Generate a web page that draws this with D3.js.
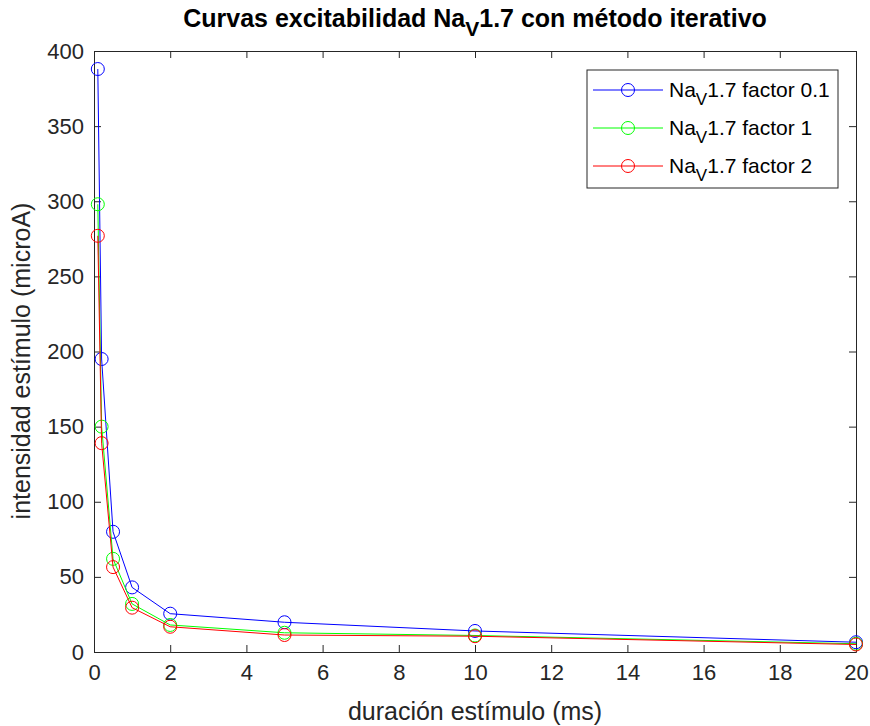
<!DOCTYPE html>
<html><head><meta charset="utf-8">
<script src="https://cdn.jsdelivr.net/npm/d3@7"></script>
<style>body{margin:0;background:#fff;font-family:"Liberation Sans",Arial,sans-serif;}</style>
</head><body><svg id="c" width="870" height="726"></svg>
<script>
const durations = [0.1, 0.2, 0.5, 1, 2, 5, 10, 20];
const factor01 = [388, 195, 80, 43, 25.5, 19.8, 14, 6.5];
const factor1 = [298, 150, 62, 32, 18, 12.8, 11, 5.5];
const factor2 = [277, 139, 56.5, 29.5, 16.8, 11.3, 10.5, 5];
const seriesNames = ["factor 0.1", "factor 1", "factor 2"];
const seriesColors = ["#0000ff", "#00ff00", "#ff0000"];
const xTicks = [0,2,4,6,8,10,12,14,16,18,20];
const yTicks = [0,50,100,150,200,250,300,350,400];

const svg = d3.select("#c");
const L=94, R=856, T=51, B=652;
const x = d3.scaleLinear().domain([0,20]).range([L,R]);
const y = d3.scaleLinear().domain([0,400]).range([B,T]);
const ink="#262626";

const ax = svg.append("g").attr("transform",`translate(0,${B})`)
  .call(d3.axisBottom(x).tickValues(xTicks).tickSizeInner(-7).tickSizeOuter(0).tickPadding(12));
const axT = svg.append("g").attr("transform",`translate(0,${T})`)
  .call(d3.axisTop(x).tickValues(xTicks).tickSizeInner(-7).tickSizeOuter(0).tickFormat(""));
const ay = svg.append("g").attr("transform",`translate(${L},0)`)
  .call(d3.axisLeft(y).tickValues(yTicks).tickSizeInner(-7).tickSizeOuter(0).tickPadding(10));
const ayR = svg.append("g").attr("transform",`translate(${R},0)`)
  .call(d3.axisRight(y).tickValues(yTicks).tickSizeInner(-7).tickSizeOuter(0).tickFormat(""));
[ax,axT,ay,ayR].forEach(g=>{
  g.selectAll("path,line").attr("stroke",ink).attr("stroke-width",1);
  g.selectAll("text").attr("fill",ink).style("font-size","22px").style("font-family","Liberation Sans, Arial, sans-serif");
});

const all = [factor01, factor1, factor2];
const line = d3.line().x((d,i)=>x(durations[i])).y(d=>y(d));
all.forEach((s,k)=>{
  svg.append("path").datum(s).attr("d",line).attr("fill","none").attr("stroke",seriesColors[k]).attr("stroke-width",1);
  svg.append("g").selectAll("circle").data(s).join("circle")
    .attr("cx",(d,i)=>x(durations[i])).attr("cy",d=>y(d)).attr("r",6.5)
    .attr("fill","none").attr("stroke",seriesColors[k]).attr("stroke-width",1);
});

const title = svg.append("text").attr("x",(L+R)/2).attr("y",27).attr("text-anchor","middle")
  .attr("fill","#000").style("font-size","25px").style("font-weight","bold");
title.append("tspan").text("Curvas excitabilidad Na");
title.append("tspan").attr("dy",9).style("font-size","21px").text("V");
title.append("tspan").attr("dy",-9).text("1.7 con método iterativo");

svg.append("text").attr("x",(L+R)/2).attr("y",720).attr("text-anchor","middle").attr("fill",ink)
  .style("font-size","25px").text("duración estímulo (ms)");
svg.append("text").attr("transform",`translate(30,361) rotate(-90)`).attr("text-anchor","middle").attr("fill",ink)
  .style("font-size","25px").text("intensidad estímulo (microA)");

const lg = svg.append("g");
lg.append("rect").attr("x",587).attr("y",70).attr("width",251).attr("height",118)
  .attr("fill","#fff").attr("stroke",ink).attr("stroke-width",1);
seriesNames.forEach((n,k)=>{
  const yy = 90 + k*38;
  lg.append("line").attr("x1",593).attr("x2",663).attr("y1",yy).attr("y2",yy).attr("stroke",seriesColors[k]);
  lg.append("circle").attr("cx",628).attr("cy",yy).attr("r",6.5).attr("fill","none").attr("stroke",seriesColors[k]);
  const t = lg.append("text").attr("x",669).attr("y",yy+7).attr("fill","#000").style("font-size","21px");
  t.append("tspan").text("Na");
  t.append("tspan").attr("dy",8).style("font-size","17px").text("V");
  t.append("tspan").attr("dy",-8).text("1.7 " + n);
});
</script></body></html>
